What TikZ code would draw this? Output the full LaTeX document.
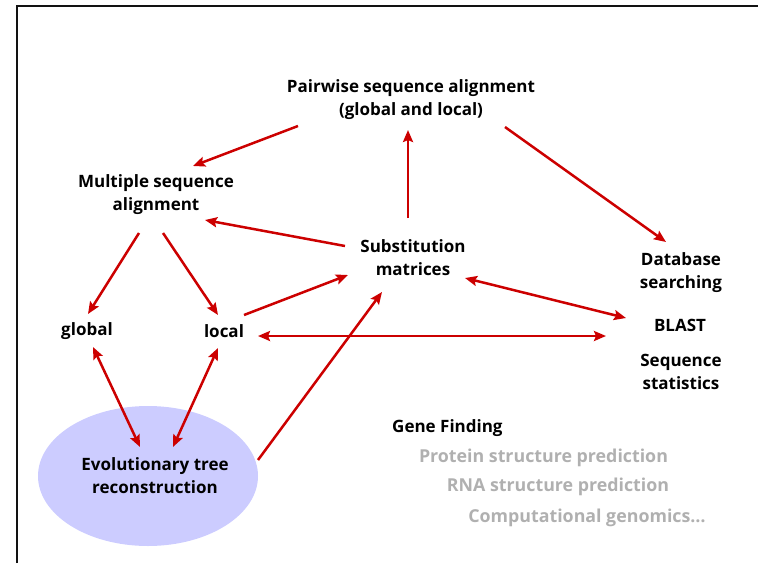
\documentclass[tikz,border=0pt]{standalone}
\usepackage{fontspec}
\setmainfont{Open Sans}
\usetikzlibrary{arrows.meta,calc,shapes.geometric}
\definecolor{arrred}{RGB}{204,0,0}
\definecolor{lav}{RGB}{204,204,255}
\definecolor{softgray}{RGB}{176,176,176}
\tikzset{
  lbl/.style={font=\bfseries\fontsize{17}{23}\selectfont, align=center, inner sep=0pt},
  grey/.style={lbl, font=\bfseries\fontsize{17.8}{23}\selectfont, text=softgray},
  arr/.style={draw=arrred, line width=2.5pt, -{Stealth[length=12pt,width=10pt,inset=2pt]}},
  darr/.style={arr, {Stealth[length=12pt,width=10pt,inset=2pt]}-{Stealth[length=12pt,width=10pt,inset=2pt]}},
  frame/.style={draw=black!93, line width=2.2pt}
}
\begin{document}
\begin{tikzpicture}[x=1pt,y=-1pt]
\useasboundingbox (0,0) rectangle (758,563);
\coordinate (fa) at (17,563);
\coordinate (fb) at (17,6);
\coordinate (fc) at (758,6);
\draw[frame] (fa) -- (fb) -- (fc);

\node[ellipse, fill=lav, minimum width=220pt, minimum height=140pt, inner sep=0pt] (evo) at (148,476) {};
\node[lbl] (evot) at (155,476) {Evolutionary tree\\reconstruction};

\node[lbl] (pw) at (411,100) {Pairwise sequence alignment\\(global and local)};
\node[lbl] (msa) at (156,195) {Multiple sequence\\alignment};
\node[lbl] (sub) at (413,258) {Substitution\\matrices};
\node[lbl] (db) at (681,273) {Database\\searching};
\node[lbl] (blast) at (680,325) {BLAST};
\node[lbl] (stats) at (681,372) {Sequence\\statistics};
\node[lbl] (global) at (87,331) {global};
\node[lbl] (local) at (224,331) {local};
\node[lbl, anchor=west] (gene) at (392,428) {Gene Finding};
\node[grey] (prot) at (543.5,458) {Protein structure prediction};
\node[grey] (rna) at (558,487) {RNA structure prediction};
\node[grey] (comp) at (587,518) {Computational genomics\ldots};

\draw[arr] ($(pw)+(-113,26)$) -- ($(msa)+(37,-29)$);
\draw[arr] ($(pw)+(94,27)$) -- ($(db)+(-15,-31)$);
\draw[arr] ($(sub)+(-5,-40)$) -- ($(pw)+(-3,30)$);
\draw[arr] ($(sub)+(-68,-12)$) -- ($(msa)+(49,25)$);
\draw[arr] ($(msa)+(-17,38)$) -- ($(global)+(1,-17)$);
\draw[arr] ($(msa)+(7,38)$) -- ($(local)+(-6,-16)$);
\draw[arr] ($(local)+(20,-16)$) -- ($(sub)+(-65,17)$);
\draw[darr] ($(sub)+(52,20)$) -- ($(blast)+(-54,-7)$);
\draw[darr] ($(local)+(34,5)$) -- ($(blast)+(-74,11)$);
\draw[darr] ($(global)+(6,16)$) -- ($(evo)+(-8,-29)$);
\draw[darr] ($(local)+(-6,17)$) -- ($(evo)+(25,-29)$);
\draw[arr] ($(evo)+(110,-16)$) -- ($(sub)+(-31,34)$);
\end{tikzpicture}
\end{document}
